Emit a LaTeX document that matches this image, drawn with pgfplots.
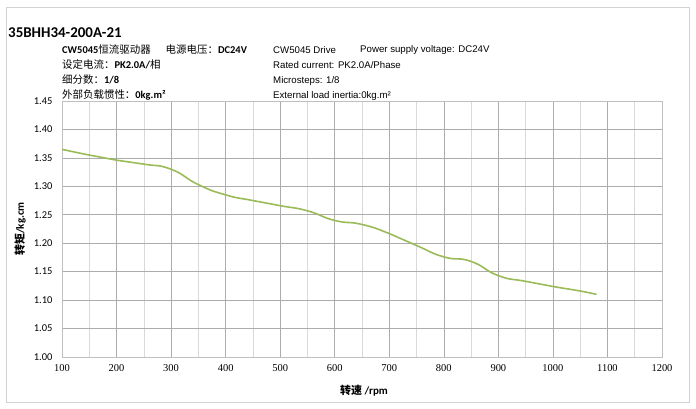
\documentclass[border=0pt]{standalone}
\usepackage{fontspec}
\usepackage{pgfplots}
\pgfplotsset{compat=1.18}
\setmainfont{Carlito}
\newfontfamily\cjk{Noto Sans CJK SC}
\newfontfamily\arial{Liberation Sans}
\newfontfamily\tms{Liberation Serif}
\definecolor{curve}{RGB}{155,187,89}
\begin{document}
\begin{tikzpicture}
\useasboundingbox (0bp,0bp) rectangle (696bp,-409bp);
\draw[gray!35, line width=0.9bp] (6bp,-7bp) rectangle (689bp,-402bp);
\begin{axis}[
  at={(62bp,-357bp)}, anchor=south west,
  scale only axis, width=600bp, height=256bp,
  xmin=100, xmax=1200, ymin=1.00, ymax=1.45,
  xtick={100,200,...,1200},
  minor xtick={150,250,...,1150},
  ytick={1.00,1.05,1.10,1.15,1.20,1.25,1.30,1.35,1.40,1.45},
  grid=both,
  major grid style={gray!65, line width=0.6bp},
  minor grid style={gray!30, line width=0.6bp},
  axis line style={gray!50, line width=0.6bp},
  major tick length=0pt, minor tick length=0pt,
  /pgf/number format/assume math mode=true,
  yticklabel style={font=\fontsize{10.5}{12}\selectfont, /pgf/number format/.cd, fixed, fixed zerofill, precision=2},
  xticklabel style={font=\tms\fontsize{10.5}{12}\selectfont, /pgf/number format/.cd, set thousands separator={}},
  ytick pos=left, xtick pos=bottom,
  yticklabel shift=6bp, xticklabel shift=4bp,
]
\addplot[curve, line width=1.6bp, smooth, tension=0.9] coordinates {
(100,1.365) (150,1.355) (200,1.346) (250,1.339) (300,1.330) (350,1.303)
(400,1.285) (450,1.275) (500,1.266) (550,1.257) (600,1.240) (650,1.233)
(700,1.217) (750,1.196) (800,1.176) (850,1.168) (900,1.143) (950,1.133)
(1000,1.124) (1050,1.116) (1080,1.110)
};
\end{axis}
\node[anchor=west, inner sep=0pt, font=\bfseries\fontsize{15}{18}\selectfont] at (8bp,-33bp) {35BHH34-200A-21};
\begin{scope}[every node/.style={anchor=west, inner sep=0pt, font=\fontsize{10.5}{12}\selectfont}]
\node at (62bp,-50bp) {\textbf{CW5045}{\cjk 恒流驱动器}\hspace{15bp}{\cjk 电源电压：}\textbf{DC24V}};
\node at (62bp,-65bp) {{\cjk 设定电流：}\textbf{PK2.0A/}{\cjk 相}};
\node at (62bp,-80bp) {{\cjk 细分数：}\textbf{1/8}};
\node at (62bp,-95bp) {{\cjk 外部负载惯性：}\textbf{0kg.m²}};
\end{scope}
\begin{scope}[every node/.style={anchor=west, inner sep=0pt, font=\arial\fontsize{9.7}{12}\selectfont}]
\node at (273bp,-50bp) {CW5045 Drive};
\node at (360bp,-50bp) {Power supply voltage: DC24V};
\node at (273bp,-65bp) {Rated current: PK2.0A/Phase};
\node at (273bp,-81bp) {Microsteps: 1/8};
\node at (273bp,-96bp) {External load inertia:0kg.m²};
\end{scope}
\node[rotate=90, inner sep=0pt, font=\fontsize{11}{13}\selectfont] at (20bp,-229bp) {{\cjk\bfseries 转矩}\textbf{/kg.cm}};
\node[inner sep=0pt, font=\fontsize{11}{13}\selectfont] at (364bp,-391bp) {{\cjk\bfseries 转速} \textbf{/rpm}};
\end{tikzpicture}
\end{document}
